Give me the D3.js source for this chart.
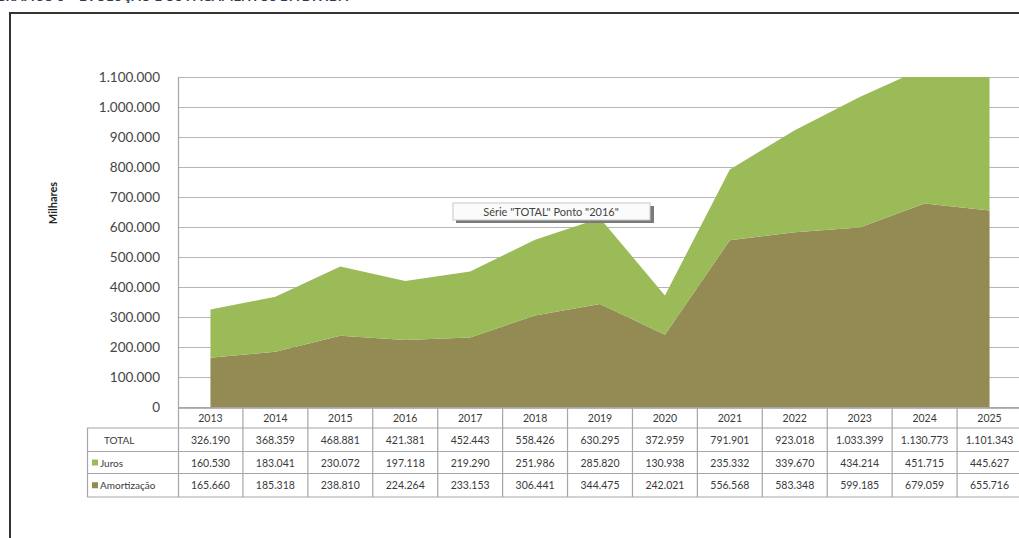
<!DOCTYPE html>
<html>
<head>
<meta charset="utf-8">
<script src="https://cdn.jsdelivr.net/npm/d3@7"></script>
<style>
  body { margin: 0; background: #fff; }
  svg { display: block; font-family: Lato, "Open Sans", sans-serif; }
</style>
</head>
<body>
<div id="chart"></div>
<script>
// data
var years = ['2013','2014','2015','2016','2017','2018','2019','2020','2021','2022','2023','2024','2025']
var total = [326190,368359,468881,421381,452443,558426,630295,372959,791901,923018,1033399,1130773,1101343]
var juros = [160530,183041,230072,197118,219290,251986,285820,130938,235332,339670,434214,451715,445627]
var amortizacao = [165660,185318,238810,224264,233153,306441,344475,242021,556568,583348,599185,679059,655716]
var yTicks = [0,100000,200000,300000,400000,500000,600000,700000,800000,900000,1000000,1100000]
var totalLabels = ['326.190','368.359','468.881','421.381','452.443','558.426','630.295','372.959','791.901','923.018','1.033.399','1.130.773','1.101.343']
var jurosLabels = ['160.530','183.041','230.072','197.118','219.290','251.986','285.820','130.938','235.332','339.670','434.214','451.715','445.627']
var amortLabels = ['165.660','185.318','238.810','224.264','233.153','306.441','344.475','242.021','556.568','583.348','599.185','679.059','655.716']

var W = 1019, H = 538
var colJuros = '#9bbb59', colAmort = '#948a54'
var gridCol = '#b5b5b5', tableCol = '#a6a6a6', textCol = '#3a3a3a'

var svg = d3.select('#chart').append('svg').attr('width',W).attr('height',H)

// cut off title at the very top (only its lower edge shows)
svg.append('text').attr('x',-4).attr('y',1)
  .attr('textLength',352).attr('lengthAdjust','spacingAndGlyphs')
  .style('font-size','13px').style('font-weight','bold').attr('fill','#2b3a55')
  .text('GRÁFICO 5 – EVOLUÇÃO DOS PAGAMENTOS DA DÍVIDA')

// outer frame
svg.append('line').attr('x1',9).attr('x2',W).attr('y1',13).attr('y2',13).attr('stroke','#333').attr('stroke-width',2)
svg.append('line').attr('x1',10).attr('x2',10).attr('y1',12).attr('y2',H).attr('stroke','#333').attr('stroke-width',2)

var plotL = 178, plotR = 1022, plotT = 77, plotB = 407.5

var x = d3.scaleBand().domain(years).range([plotL,plotR]).padding(0)
var y = d3.scaleLinear().domain([0,1100000]).range([plotB,plotT])

// gridlines
svg.append('g').selectAll('line').data(yTicks).enter().append('line')
  .attr('x1',plotL).attr('x2',W)
  .attr('y1',function(d){return Math.round(y(d))+0.5})
  .attr('y2',function(d){return Math.round(y(d))+0.5})
  .attr('stroke',gridCol).attr('stroke-width',1.2)

// y axis labels
var fmt = function(d){ return d3.format(',')(d).replace(/,/g,'.') }
var yaxis = svg.append('g').attr('transform','translate(160,0)')
  .call(d3.axisLeft(y).tickValues(yTicks).tickSize(0).tickPadding(0).tickFormat(fmt))
yaxis.select('.domain').remove()
yaxis.selectAll('text').style('font-size','13.5px').attr('fill','#454545').attr('font-family','Lato, "Open Sans", sans-serif')

svg.append('text').attr('transform','translate(57,'+ 203 +') rotate(-90)')
  .attr('text-anchor','middle').style('font-size','11px').style('font-weight','bold')
  .attr('fill','#222').text('Milhares')

// stacked areas
var rows = years.map(function(yr,i){ return {year:yr, amort:amortizacao[i], juros:juros[i]} })
var stack = d3.stack().keys(['amort','juros'])(rows)
svg.append('clipPath').attr('id','clip').append('rect')
  .attr('x',plotL).attr('y',plotT).attr('width',plotR-plotL).attr('height',plotB-plotT)
var area = d3.area()
  .x(function(d){return x(d.data.year)+x.bandwidth()/2})
  .y0(function(d){return y(d[0])})
  .y1(function(d){return y(d[1])})
svg.append('g').attr('clip-path','url(#clip)').selectAll('path').data(stack).enter().append('path')
  .attr('d',area)
  .attr('fill',function(d){return d.key=='amort' ? colAmort : colJuros})

// plot left line
svg.append('line').attr('x1',plotL+0.5).attr('x2',plotL+0.5).attr('y1',plotT).attr('y2',497)
  .attr('stroke',tableCol).attr('stroke-width',1.2)

// data table
var rowTop = [407.5,428,451.5,473.5,497]
var tbl = svg.append('g')
// horizontal lines
tbl.selectAll('.hl').data(rowTop).enter().append('line')
  .attr('x1',function(d,i){return i<1 ? plotL : 87})
  .attr('x2',plotR)
  .attr('y1',function(d){return d}).attr('y2',function(d){return d})
  .attr('stroke',tableCol).attr('stroke-width',1.2)
// vertical lines
tbl.selectAll('.vl').data(years).enter().append('line')
  .attr('x1',function(d){return x(d)+x.bandwidth()}).attr('x2',function(d){return x(d)+x.bandwidth()})
  .attr('y1',rowTop[0]).attr('y2',rowTop[4])
  .attr('stroke',tableCol).attr('stroke-width',1.2)
tbl.append('line').attr('x1',87.5).attr('x2',87.5).attr('y1',rowTop[1]).attr('y2',rowTop[4])
  .attr('stroke',tableCol).attr('stroke-width',1.2)

// years header
tbl.selectAll('.yr').data(years).enter().append('text')
  .attr('x',function(d){return x(d)+x.bandwidth()/2}).attr('y',422)
  .attr('text-anchor','middle').style('font-size','10.5px').attr('fill',textCol).text(function(d){return d})

var tableRows = [
  {name:'TOTAL', labels:totalLabels, color:null},
  {name:'Juros', labels:jurosLabels, color:colJuros},
  {name:'Amortização', labels:amortLabels, color:colAmort}
]
tableRows.forEach(function(r,ri){
  var cy = (rowTop[ri+1]+rowTop[ri+2])/2
  if(r.color){
    tbl.append('rect').attr('x',92).attr('y',cy-3).attr('width',6).attr('height',6).attr('fill',r.color)
    tbl.append('text').attr('x',100).attr('y',cy+4).style('font-size','10px').attr('fill',textCol).text(r.name)
  } else {
    tbl.append('text').attr('x',104).attr('y',cy+4).style('font-size','10px').attr('fill',textCol).text(r.name)
  }
  tbl.selectAll('.v'+ri).data(r.labels).enter().append('text')
    .attr('x',function(d,i){return x(years[i])+x.bandwidth()/2}).attr('y',cy+4)
    .attr('text-anchor','middle').style('font-size','10.5px').attr('fill',textCol)
    .text(function(d){return d})
})

// tooltip
var tip = svg.append('g').attr('transform','translate(453,203)')
tip.append('rect').attr('x',3).attr('y',3).attr('width',198).attr('height',17).attr('fill','#7a7a7a')
tip.append('rect').attr('x',0).attr('y',0).attr('width',197).attr('height',17).attr('fill','#fbfbfb').attr('stroke','#c8c8c8')
tip.append('text').attr('x',98).attr('y',12.5).attr('text-anchor','middle')
  .style('font-size','11px').attr('fill','#444').text('Série "TOTAL" Ponto "2016"')
</script>
</body>
</html>
